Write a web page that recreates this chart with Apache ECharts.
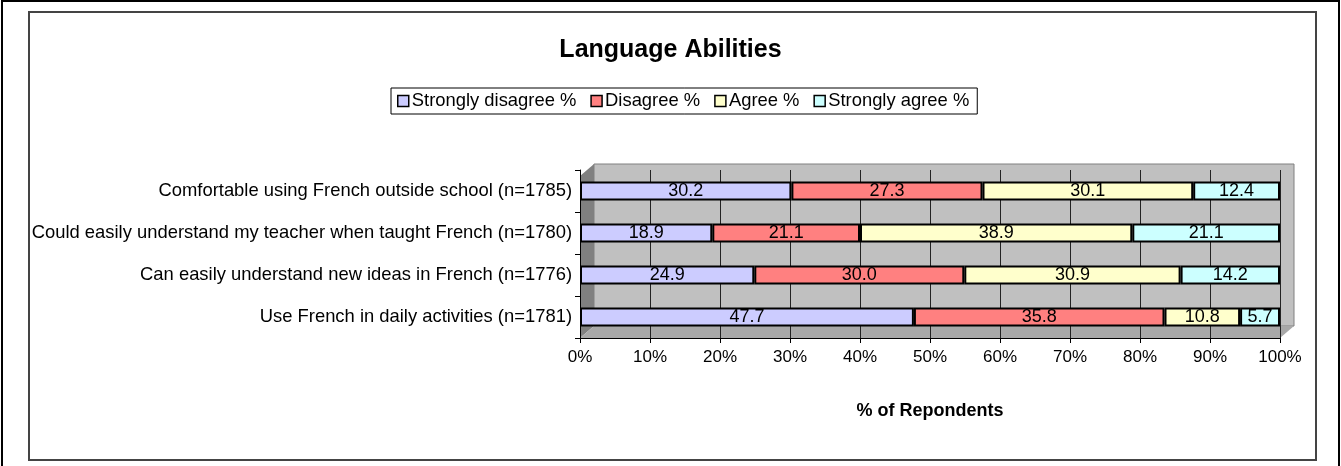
<!DOCTYPE html>
<html><head><meta charset="utf-8">
<script src="https://cdn.jsdelivr.net/npm/echarts@6/dist/echarts.min.js"></script>
<style>html,body{margin:0;padding:0;background:#fff}#c{width:1341px;height:466px}</style>
</head><body><div id="c"></div>
<script>
const categories = [
  "Use French in daily activities (n=1781)",
  "Can easily understand new ideas in French (n=1776)",
  "Could easily understand my teacher when taught French (n=1780)",
  "Comfortable using French outside school (n=1785)"
];
const stronglyDisagree = [47.7, 24.9, 18.9, 30.2];
const disagree = [35.8, 30.0, 21.1, 27.3];
const agree = [10.8, 30.9, 38.9, 30.1];
const stronglyAgree = [5.7, 14.2, 21.1, 12.4];
const seriesNames = ["Strongly disagree %", "Disagree %", "Agree %", "Strongly agree %"];
const colors = ["#ccccff", "#ff8080", "#ffffcc", "#ccffff"];
const FONT = "Liberation Sans, Arial, sans-serif";

const chart = echarts.init(document.getElementById('c'));
const dataSets = [stronglyDisagree, disagree, agree, stronglyAgree];
chart.setOption({
  animation: false,
  title: {
    text: "Language Abilities", left: 'center', top: 33,
    textStyle: {fontFamily: FONT, fontSize: 25, fontWeight: 'bold', color: '#000'}
  },
  legend: {
    data: seriesNames, top: 88, left: 391,
    borderColor: '#000', borderWidth: 1, padding: [4, 8, 4, 6],
    itemWidth: 11, itemHeight: 11, itemGap: 14,
    textStyle: {fontFamily: FONT, fontSize: 18.4, color: '#000', padding: [0, 0, 0, -2]},
    icon: 'rect',
    itemStyle: {borderColor: '#000', borderWidth: 1.5}
  },
  graphic: [
    {type: 'rect', z: -10, shape: {x: 2, y: 1, width: 1337, height: 470}, style: {fill: 'none', stroke: '#000', lineWidth: 2}, silent: true},
    {type: 'rect', z: -10, shape: {x: 29, y: 12, width: 1287, height: 448}, style: {fill: 'none', stroke: '#444', lineWidth: 2}, silent: true},
    {type: 'rect', z: -10, shape: {x: 594, y: 164, width: 700, height: 162}, style: {fill: '#c0c0c0', stroke: '#808080', lineWidth: 1}, silent: true},
    {type: 'polygon', z: -10, shape: {points: [[580, 176], [594, 164], [594, 326], [580, 338]]}, style: {fill: '#808080'}, silent: true},
    {type: 'polygon', z: -10, shape: {points: [[580, 338], [594, 326], [1294, 326], [1280, 338]]}, style: {fill: '#a8a8a8'}, silent: true}
  ],
  grid: {
    left: 580, right: 61, top: 170, bottom: 128,
    show: false
  },
  xAxis: {
    type: 'value', min: 0, max: 100, interval: 10,
    axisLine: {show: true, lineStyle: {color: '#000'}},
    axisTick: {show: true, lineStyle: {color: '#000'}},
    splitLine: {show: true, lineStyle: {color: '#222', width: 1}},
    axisLabel: {formatter: '{value}%', fontFamily: FONT, fontSize: 17, color: '#000', margin: 11},
    name: '% of Repondents', nameLocation: 'middle', nameGap: 64,
    nameTextStyle: {fontFamily: FONT, fontSize: 18, fontWeight: 'bold', color: '#000'}
  },
  yAxis: {
    type: 'category', data: categories,
    axisLine: {show: true, lineStyle: {color: '#000'}},
    axisTick: {show: true, lineStyle: {color: '#000'}},
    axisLabel: {fontFamily: FONT, fontSize: 18.4, color: '#000', margin: 8}
  },
  series: dataSets.map((d, i) => ({
    name: seriesNames[i], type: 'bar', stack: 'total', data: d,
    barWidth: 19,
    itemStyle: {color: colors[i], borderColor: '#000', borderWidth: 2},
    label: {show: true, position: 'inside', formatter: p => p.value.toFixed(1),
      fontFamily: FONT, fontSize: 18, color: '#000'}
  }))
});
</script></body></html>
